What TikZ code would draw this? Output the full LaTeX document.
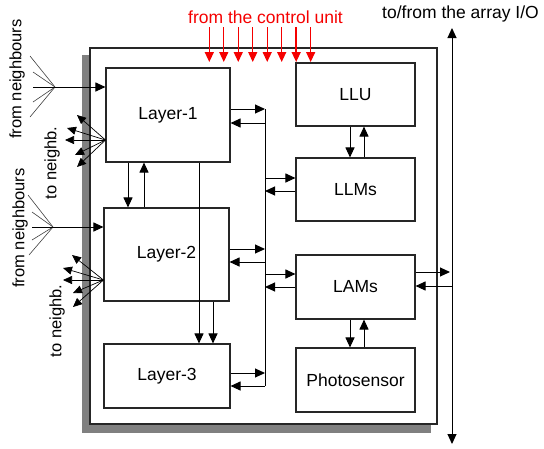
\documentclass[tikz,border=0pt]{standalone}
\usepackage{fontspec}
\setmainfont{Liberation Sans}
\usetikzlibrary{arrows.meta}
\definecolor{cred}{RGB}{245,0,0}
\definecolor{shadowgray}{RGB}{128,128,128}
\begin{document}
\begin{tikzpicture}[x=1pt,y=-1pt,
  blk/.style={draw=black!85, line width=1.1pt, fill=white, inner sep=0pt,
    font=\fontsize{17.5}{20}\selectfont},
  arr/.style={-{Triangle[length=10pt,width=9pt]}, line width=1pt},
  arrboth/.style={{Triangle[length=10pt,width=9pt]}-{Triangle[length=10pt,width=9pt]}, line width=1pt},
  redarr/.style={-{Triangle[length=10pt,width=9pt]}, line width=1.4pt, draw=cred, fill=cred},
  fan/.style={line width=0.6pt, draw=black!75},
  narr/.style={-{Triangle[length=9pt,width=8pt]}, line width=0.7pt},
  lbl/.style={font=\fontsize{16.5}{19}\selectfont, rotate=90, inner sep=0pt},
  ttl/.style={font=\fontsize{17.5}{20}\selectfont, inner sep=0pt}]
\useasboundingbox (0,0) rectangle (544,448);

% outer box with shadow
\fill[shadowgray] (82,55) rectangle (431,433);
\draw[fill=white, line width=1.1pt, draw=black!85] (90,48) rectangle (437,424);

% blocks
\node[blk, minimum width=124pt, minimum height=94pt] (L1) at (168,115) {Layer-1};
\node[blk, minimum width=125pt, minimum height=93pt] (L2) at (166.5,254.5) {Layer-2};
\node[blk, minimum width=126pt, minimum height=64pt] (L3) at (167,376) {Layer-3};
\node[blk, minimum width=119pt, minimum height=63pt] (LLU) at (355.5,94.5) {LLU};
\node[blk, minimum width=119pt, minimum height=63pt] (LLMs) at (355.5,189.5) {LLMs};
\node[blk, minimum width=119pt, minimum height=64pt] (LAMs) at (355.5,287) {LAMs};
\node[blk, minimum width=119pt, minimum height=64pt] (Ph) at (355.5,380) {Photosensor};

% labels
\node[ttl, text=cred, anchor=base] (ctl) at (265.5,23) {from the control unit};
\node[ttl, anchor=base west] (io) at (382,18) {to/from the array I/O};
\node[lbl] (fn1) at (17,79) {from neighbours};
\node[lbl] (tn1) at (52,163) {to neighb.};
\node[lbl] (fn2) at (20,228) {from neighbours};
\node[lbl] (tn2) at (57,321) {to neighb.};

% red control arrows
\foreach \i in {0,...,7}
  \draw[redarr] ({209.3+14.48*\i},27) -- ({209.3+14.48*\i},62);

% bus
\coordinate (y1o) at (265,109);
\coordinate (y1i) at (265,123);
\coordinate (ym1) at (265,178);
\coordinate (ym2) at (265,191);
\coordinate (y2o) at (265,249);
\coordinate (y2i) at (265,262);
\coordinate (ya1) at (265,274);
\coordinate (ya2) at (265,287);
\coordinate (y3o) at (265,373);
\coordinate (y3i) at (265,386);
\draw[line width=1pt] (y1o) -- (y3i);

\draw[arr] (L1.east |- y1o) -- (y1o);
\draw[arr] (y1i) -- (L1.east |- y1i);
\draw[arr] (L2.east |- y2o) -- (y2o);
\draw[arr] (y2i) -- (L2.east |- y2i);
\draw[arr] (L3.east |- y3o) -- (y3o);
\draw[arr] (y3i) -- (L3.east |- y3i);
\draw[arr] (ym1) -- (LLMs.west |- ym1);
\draw[arr] (LLMs.west |- ym2) -- (ym2);
\draw[arr] (ya1) -- (LAMs.west |- ya1);
\draw[arr] (LAMs.west |- ya2) -- (ya2);

% array I/O line
\coordinate (iot) at (452,28);
\coordinate (iob) at (452,444);
\coordinate (io1) at (450,272);
\coordinate (io2) at (452,286);
\draw[arrboth] (iot) -- (iob);
\draw[arr] (LAMs.east |- io1) -- (io1);
\draw[arr] (io2) -- (LAMs.east |- io2);

% vertical connections
\coordinate (xa) at (128,0);
\coordinate (xb) at (144,0);
\coordinate (xc) at (199,0);
\coordinate (xd) at (213,0);
\coordinate (xe) at (350,0);
\coordinate (xf) at (364,0);
\draw[arr] (L1.south -| xa) -- (L2.north -| xa);
\draw[arr] (L2.north -| xb) -- (L1.south -| xb);
\draw[arr] (L1.south -| xc) -- (L3.north -| xc);
\draw[arr] (L2.south -| xd) -- (L3.north -| xd);
\draw[arr] (LLU.south -| xe) -- (LLMs.north -| xe);
\draw[arr] (LLMs.north -| xf) -- (LLU.south -| xf);
\draw[arr] (LAMs.south -| xe) -- (Ph.north -| xe);
\draw[arr] (Ph.north -| xf) -- (LAMs.south -| xf);

% from neighbours fans
\coordinate (f1) at (55,87);
\foreach \p in {(30,56),(33,72),(33,102),(30,117)}
  \draw[fan] \p -- (f1);
\coordinate (f1s) at (33,87);
\draw[arr] (f1s) -- (L1.west |- f1s);

\coordinate (f2) at (53,227);
\foreach \p in {(28,195),(32,212),(32,240),(29,255)}
  \draw[fan] \p -- (f2);
\coordinate (f2s) at (32,227);
\draw[arr] (f2s) -- (L2.west |- f2s);

% to neighb. fans
\path (L1.west) ++(0,25) coordinate (t1);
\foreach \p in {(77,115),(67,128),(65,140),(75,155),(77,167)}
  \draw[narr] (t1) -- \p;
\path (L2.west) ++(0,25.5) coordinate (t2);
\foreach \p in {(72,255),(63,268),(63,280),(73,293),(73,307)}
  \draw[narr] (t2) -- \p;
\end{tikzpicture}
\end{document}
